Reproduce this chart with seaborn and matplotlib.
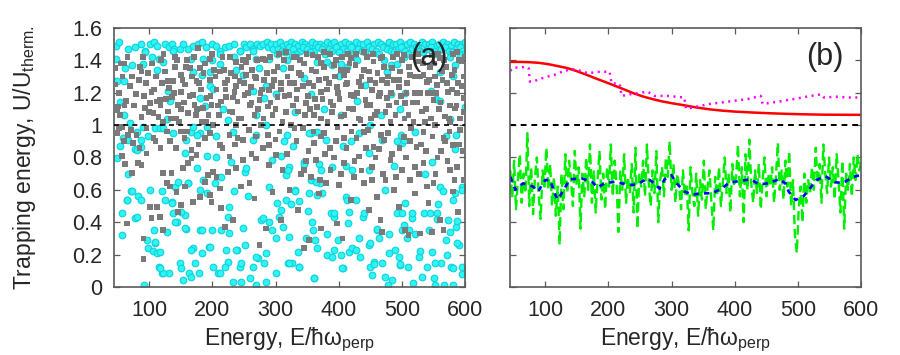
import numpy as np
import pandas as pd
import matplotlib
matplotlib.use('Agg')
import matplotlib.pyplot as plt
from matplotlib.ticker import FuncFormatter
import seaborn as sns

# ---------------- panel (a): trapping energies ----------------
# cyan circles, dense band at the top (U/Uth ~ 1.5)
cyan_band = [(47, 1.49), (52, 1.51), (67, 1.47), (78, 1.48), (88, 1.50), (94, 1.46), (102, 1.50), (108, 1.51),
             (112, 1.49), (125, 1.50), (131, 1.48), (136, 1.50), (140, 1.47), (149, 1.47), (154, 1.50), (162, 1.47),
             (170, 1.49), (178, 1.50), (184, 1.51), (190, 1.48), (200, 1.50), (206, 1.49), (212, 1.46), (220, 1.48),
             (227, 1.49), (235, 1.50), (243, 1.46), (250, 1.50), (254, 1.48), (260, 1.50), (264, 1.47), (270, 1.50),
             (276, 1.49), (280, 1.50), (286, 1.51), (288, 1.48), (293, 1.50), (296, 1.47),
             (301, 1.50), (307, 1.51), (312, 1.49), (318, 1.50), (324, 1.51), (330, 1.50), (335, 1.49), (341, 1.51),
             (347, 1.50), (353, 1.49), (358, 1.51), (364, 1.50), (370, 1.50), (376, 1.49), (381, 1.51), (387, 1.50),
             (393, 1.51), (398, 1.49), (404, 1.50), (410, 1.51), (416, 1.50), (421, 1.49), (427, 1.51), (433, 1.50),
             (439, 1.50), (444, 1.51), (450, 1.49), (456, 1.50), (462, 1.51), (467, 1.50), (473, 1.49), (479, 1.51),
             (485, 1.50), (490, 1.50), (496, 1.51), (502, 1.49), (508, 1.50), (513, 1.51), (519, 1.50), (525, 1.49),
             (531, 1.51), (536, 1.50), (542, 1.50), (548, 1.51), (554, 1.49), (559, 1.50), (565, 1.51), (571, 1.50),
             (577, 1.49), (582, 1.51), (588, 1.50), (594, 1.50), (599, 1.51),
             (304, 1.47), (310, 1.46), (321, 1.48), (327, 1.47), (338, 1.46), (344, 1.48), (350, 1.47), (361, 1.46),
             (367, 1.48), (373, 1.47), (384, 1.47), (390, 1.46), (396, 1.48), (407, 1.47), (413, 1.46), (419, 1.48),
             (430, 1.47), (436, 1.46), (447, 1.48), (453, 1.47), (459, 1.46), (470, 1.48), (476, 1.47), (482, 1.46),
             (493, 1.47), (499, 1.48), (505, 1.46), (516, 1.47), (522, 1.48), (528, 1.46), (539, 1.47), (545, 1.48),
             (551, 1.46), (562, 1.47), (568, 1.48), (574, 1.46), (585, 1.47), (591, 1.48), (597, 1.46),
             (303, 1.44), (315, 1.45), (332, 1.44), (355, 1.45), (378, 1.44), (401, 1.45), (424, 1.44), (442, 1.45),
             (464, 1.44), (487, 1.45), (510, 1.44), (533, 1.45), (556, 1.44), (579, 1.45), (598, 1.44)]

# cyan circles between 1.0 and 1.45
cyan_upper = [(47, 1.41), (45, 1.27), (50, 1.27), (60, 1.27), (62, 1.35), (73, 1.37), (90, 1.38), (94, 1.45),
              (104, 1.42), (112, 1.34), (115, 1.41), (122, 1.39), (130, 1.21), (133, 1.15), (138, 1.46), (167, 1.41),
              (170, 1.33), (183, 1.31), (185, 1.41), (196, 1.33), (199, 1.40), (212, 1.38), (212, 1.44), (196, 1.24),
              (201, 1.22), (217, 1.10), (235, 1.42), (238, 1.34), (243, 1.46), (248, 1.31), (264, 1.46), (269, 1.41),
              (274, 1.35), (290, 1.41), (311, 1.35), (282, 1.17), (285, 1.24), (301, 1.19), (269, 1.06), (264, 1.21),
              (180, 1.17), (188, 1.12), (128, 1.04), (54, 1.14), (60, 1.06), (70, 1.01), (225, 1.03),
              (318, 1.40), (326, 1.43), (366, 1.39), (382, 1.39), (389, 1.37), (403, 1.38), (413, 1.36), (429, 1.40),
              (471, 1.40), (482, 1.37), (492, 1.38), (503, 1.42), (576, 1.42), (584, 1.37), (592, 1.43), (476, 1.33),
              (560, 1.33), (345, 1.29), (400, 1.30), (442, 1.25), (482, 1.19), (505, 1.20), (554, 1.16), (545, 1.21),
              (581, 1.30), (330, 1.08), (377, 1.10), (403, 1.06), (466, 1.06), (497, 1.10), (576, 1.04), (560, 1.15),
              (429, 1.15), (356, 1.19), (600, 1.11), (450, 1.00)]

# cyan circles between 0.7 and 1.0
cyan_mid = [(54, 0.87), (81, 0.96), (99, 0.93), (109, 0.98), (117, 0.98), (138, 0.95), (167, 0.96), (180, 0.95),
            (191, 0.99), (206, 0.93), (233, 0.96), (264, 0.91), (285, 1.00), (309, 0.81), (327, 0.87), (356, 0.95),
            (379, 0.91), (406, 0.87), (432, 0.95), (447, 0.83), (468, 0.91), (500, 0.89), (521, 0.96), (547, 0.77),
            (570, 0.93), (583, 0.85), (369, 0.76), (390, 0.74), (421, 0.72), (321, 0.74), (191, 0.81), (157, 0.83),
            (122, 0.98), (91, 0.99), (78, 0.85), (88, 0.91), (59, 0.92), (67, 0.91), (170, 0.99), (175, 0.94),
            (269, 0.94), (318, 0.94), (353, 0.95), (492, 0.90), (586, 0.94), (419, 0.90), (366, 0.96), (499, 0.94),
            (314, 0.90)]

# cyan circles below 0.85
cyan_low = [(49, 0.795), (57, 0.455), (57, 0.32), (65, 0.54), (67, 0.70), (72, 0.59), (78, 0.424), (81, 0.846),
            (83, 0.56), (88, 0.537), (88, 0.867), (92, 0.012), (96, 0.29), (99, 0.24), (102, 0.60), (106, 0.22),
            (108, 0.35), (109, 0.27), (113, 0.21), (116, 0.125), (120, 0.084), (121, 0.59), (125, 0.537), (128, 0.34),
            (132, 0.084), (136, 0.527), (138, 0.455), (141, 0.62), (144, 0.40), (149, 0.146), (151, 0.115),
            (154, 0.043), (157, 0.445), (158, 0.36), (159, 0.908), (162, 0.64), (163, 0.084), (167, 0.064),
            (170, 0.24), (175, 0.733), (179, 0.084), (180, 0.352), (183, 0.208), (185, 0.66), (192, 0.58),
            (195, 0.25), (199, 0.35), (201, 0.126), (209, 0.084), (213, 0.68), (214, 0.352), (221, 0.229),
            (225, 0.156), (227, 0.496), (233, 0.033), (235, 0.59), (239, 0.229), (243, 0.126), (246, 0.033),
            (251, 0.712), (252, 0.26), (256, 0.56), (264, 0.126), (269, 0.012), (272, 0.177), (277, 0.414),
            (282, 0.146), (285, 0.033), (285, 0.208), (290, 0.62), (294, 0.352), (295, 0.784), (300, 0.084),
            (305, 0.434), (309, 0.475), (316, 0.537), (322, 0.31), (326, 0.146), (330, 0.60), (335, 0.218),
            (337, 0.126), (345, 0.774), (348, 0.30), (356, 0.66), (358, 0.40), (359, 0.352), (361, 0.054),
            (362, 0.29), (366, 0.24), (371, 0.64), (374, 0.58), (382, 0.198), (387, 0.455), (390, 0.187),
            (392, 0.434), (398, 0.29), (403, 0.198), (406, 0.115), (411, 0.558), (414, 0.393), (416, 0.218),
            (421, 0.24), (427, 0.537), (432, 0.30), (434, 0.187), (439, 0.434), (447, 0.26), (450, 0.126),
            (452, 0.074), (455, 0.156), (460, 0.352), (463, 0.30), (468, 0.146), (473, 0.064), (478, 0.012),
            (480, 0.33), (484, 0.043), (489, 0.229), (492, 0.455), (495, 0.187), (497, 0.136), (500, 0.352),
            (503, 0.908), (505, 0.517), (508, 0.30), (510, 0.126), (516, 0.424), (518, 0.023), (521, 0.33),
            (526, 0.187), (531, 0.064), (536, 0.70), (539, 0.126), (542, 0.352), (547, 0.218), (550, 0.054),
            (552, 0.012), (556, 0.455), (560, 0.62), (562, 0.146), (566, 0.012), (570, 0.29), (573, 0.414),
            (578, 0.126), (580, 0.012), (583, 0.58), (585, 0.373), (581, 0.537), (594, 0.62), (594, 0.126),
            (590, 0.26), (587, 0.41), (595, 0.08),
            (65, 0.537), (72.8, 0.59), (80.6, 0.434), (109, 0.28), (117, 0.218), (122, 0.084), (117, 0.115),
            (135.6, 0.517), (141, 0.403), (146, 0.65), (151, 0.465), (157, 0.362), (162, 0.64), (167, 0.228),
            (172, 0.146), (180, 0.599), (183, 0.35), (196, 0.25), (204, 0.64), (206, 0.805), (212, 0.084),
            (219.5, 0.125), (225, 0.434), (227, 0.331), (230, 0.774), (238, 0.228), (246, 0.146), (248, 0.362),
            (253.5, 0.733), (259, 0.053), (269, 0.187), (280, 0.424), (290, 0.403), (301, 0.30), (303, 0.517),
            (311, 0.372), (316, 0.69), (319, 0.146),
            (319, 0.72), (330, 0.59), (337, 0.53), (345, 0.76), (350.6, 0.47), (363.7, 0.65), (366, 0.57),
            (371.5, 0.72), (392.5, 0.455), (410.8, 0.75), (413.5, 0.54), (416, 0.465), (439.7, 0.455),
            (447.5, 0.72), (460.6, 0.36), (473.7, 0.60), (486.8, 0.75), (500, 0.455), (502.6, 0.38), (510.4, 0.35),
            (515.6, 0.455), (534, 0.455), (544.5, 0.455), (555, 0.42), (557.6, 0.51), (565.5, 0.59), (576, 0.34),
            (586.5, 0.27), (594, 0.60), (324.5, 0.51), (353, 0.58), (382, 0.33), (392.5, 0.23), (426.6, 0.23),
            (450, 0.27), (455, 0.14), (479, 0.21), (497, 0.14), (528.7, 0.22), (552, 0.15), (570.6, 0.20),
            (581, 0.115), (322, 0.15), (337.5, 0.125), (361, 0.053), (405.6, 0.115)]

# grey squares between 0.85 and 1.45
grey_upper = [(47, 1.35), (50.5, 1.114), (54, 1.062), (49, 0.95), (57, 0.99), (67, 0.94), (75, 0.888), (80, 0.94),
              (88, 1.05), (88, 1.33), (94, 1.104), (101.6, 1.135), (104, 1.206), (107, 1.073), (112, 1.145),
              (117, 1.155), (120, 1.26), (125, 1.33), (130, 1.083), (135.7, 1.175), (138, 1.27), (143, 1.04),
              (146, 1.124), (151, 1.206), (151, 1.31), (157, 1.25), (162, 1.073), (165, 1.35), (170, 1.186),
              (172, 1.124), (175, 1.27), (180, 1.35), (185, 1.104), (191, 1.165), (196, 1.28), (198.6, 1.124),
              (201, 1.0), (206.5, 1.22), (211.7, 1.33), (214, 1.145), (219.5, 1.26), (222, 1.175), (227, 1.083),
              (230, 1.32), (235, 1.206), (240, 1.145), (243, 1.27), (245.6, 1.04), (251, 1.186), (253.6, 1.31),
              (259, 1.124), (261.5, 1.237), (266.7, 1.062), (269, 1.29), (274.5, 1.155), (277, 1.0), (282, 1.28),
              (287.6, 1.114), (290, 1.216), (295, 1.062), (298, 1.33), (303, 1.175), (308.5, 1.26), (311, 1.02),
              (279.7, 1.41), (253.6, 1.39), (238, 1.39), (196, 1.41), (177.5, 1.474), (140.6, 1.42), (90.6, 1.42),
              (60, 1.38), (107, 0.92), (133, 0.90), (159.6, 0.96), (167, 0.846), (188, 0.92), (211.7, 0.877),
              (227, 0.94), (248, 0.908), (269, 0.93), (290, 0.877), (306, 0.96), (238, 1.0), (183, 1.02),
              (122.5, 1.02), (96, 0.98), (49, 1.11), (49, 1.09),
              (316.5, 1.453), (324, 1.35), (332, 1.42), (340, 1.31), (345, 1.38), (353, 1.258), (358.5, 1.433),
              (364, 1.33), (371.5, 1.206), (376.8, 1.453), (379.4, 1.288), (387, 1.144), (392.5, 1.371),
              (397.7, 1.237), (405.6, 1.422), (408, 1.309), (416, 1.103), (418.7, 1.186), (426.6, 1.371),
              (432, 1.268), (439.7, 1.453), (442, 1.155), (447.5, 1.33), (453, 1.217), (460.6, 1.083), (466, 1.412),
              (468.5, 1.278), (476, 1.165), (484, 1.35), (489.5, 1.062), (494.7, 1.237), (502.5, 1.433),
              (505, 1.134), (513, 1.309), (521, 1.196), (526, 1.392), (531.4, 1.083), (539, 1.268), (544.5, 1.36),
              (549.7, 1.155), (555, 1.247), (563, 1.33), (568, 1.052), (573, 1.206), (578.5, 1.309), (584, 1.103),
              (589, 1.258), (594, 1.392), (597, 1.165), (322, 1.186), (335, 1.083), (348, 1.134), (361, 1.062),
              (382, 1.021), (403, 1.052), (434.5, 1.031), (450, 1.124), (481.6, 1.021), (518, 1.021), (552, 1.0),
              (576, 1.021), (324.5, 1.0), (371.5, 1.381), (413.5, 1.34), (455, 1.392), (497, 1.33), (534, 1.309),
              (560, 1.412), (586.5, 1.453), (366, 1.113), (476, 1.258), (510.4, 1.062), (544.5, 1.196),
              (329.6, 1.258), (418.7, 1.412), (342.8, 0.98), (376.8, 0.949), (408, 0.918), (439.7, 0.959),
              (471, 0.908), (502.5, 0.928), (534, 0.959), (565.5, 0.918), (591.6, 0.97), (361, 0.887),
              (455, 0.866), (523, 0.866), (581, 0.877)]

# more grey squares in the dense 1.0 - 1.45 band
grey_fill = [(52, 1.20), (58, 1.30), (64, 1.15), (70, 1.24), (76, 1.12), (84, 1.28), (92, 1.18), (98, 1.32),
             (108, 1.22), (115, 1.05), (119, 1.40), (127, 1.16), (132, 1.23), (141, 1.36), (147, 1.02),
             (155, 1.14), (160, 1.40), (168, 1.30), (176, 1.10), (182, 1.22), (188, 1.38), (194, 1.06),
             (203, 1.34), (209, 1.12), (216, 1.42), (224, 1.28), (232, 1.08), (238, 1.24), (248, 1.40),
             (256, 1.20), (263, 1.34), (272, 1.10), (279, 1.22), (284, 1.40), (292, 1.14), (297, 1.28),
             (305, 1.44), (314, 1.18), (319, 1.30), (327, 1.12), (334, 1.22), (339, 1.40), (347, 1.06),
             (351, 1.18), (360, 1.24), (367, 1.42), (374, 1.16), (384, 1.26), (389, 1.08), (395, 1.40),
             (401, 1.16), (411, 1.25), (415, 1.44), (422, 1.10), (429, 1.20), (436, 1.30), (444, 1.42),
             (451, 1.04), (458, 1.26), (463, 1.18), (472, 1.36), (479, 1.12), (487, 1.28), (492, 1.44),
             (498, 1.18), (508, 1.26), (515, 1.42), (524, 1.14), (528, 1.30), (536, 1.02), (541, 1.20),
             (547, 1.43), (552, 1.30), (558, 1.10), (566, 1.40), (571, 1.26), (576, 1.12), (581, 1.44),
             (587, 1.20), (592, 1.04), (597, 1.30), (599, 1.42),
             (46, 1.25), (55, 1.38), (61, 1.12), (66, 1.42), (73, 1.30), (79, 1.19), (86, 1.36), (95, 1.26),
             (100, 1.08), (105, 1.38), (111, 1.30), (118, 1.12), (123, 1.44), (129, 1.27), (134, 1.04),
             (139, 1.20), (144, 1.40), (150, 1.10), (153, 1.28), (158, 1.36), (164, 1.18), (171, 1.42),
             (174, 1.06), (179, 1.26), (186, 1.32), (190, 1.02), (197, 1.18), (200, 1.44), (205, 1.30),
             (210, 1.06), (218, 1.34), (221, 1.22), (228, 1.42), (233, 1.17), (236, 1.30), (242, 1.04),
             (246, 1.36), (250, 1.26), (257, 1.42), (262, 1.14), (267, 1.30), (271, 1.40), (276, 1.20),
             (281, 1.04), (286, 1.32), (291, 1.42), (294, 1.24), (300, 1.10), (303, 1.36), (309, 1.22),
             (313, 1.40), (317, 1.08), (323, 1.26), (329, 1.42), (333, 1.16), (337, 1.32), (343, 1.24),
             (349, 1.44), (354, 1.10), (357, 1.34), (362, 1.16), (369, 1.28), (372, 1.04), (377, 1.36),
             (381, 1.22), (386, 1.44), (391, 1.12), (394, 1.30), (399, 1.20), (404, 1.34), (409, 1.06),
             (413, 1.26), (417, 1.38), (424, 1.18), (427, 1.44), (431, 1.04), (435, 1.24), (440, 1.34),
             (445, 1.12), (449, 1.28), (454, 1.44), (457, 1.06), (461, 1.32), (465, 1.20), (469, 1.42),
             (474, 1.08), (478, 1.30), (483, 1.20), (486, 1.42), (491, 1.14), (495, 1.28), (500, 1.40),
             (504, 1.04), (507, 1.20), (511, 1.36), (517, 1.14), (520, 1.30), (525, 1.44), (529, 1.20),
             (533, 1.38), (538, 1.10), (543, 1.28), (546, 1.04), (550, 1.38), (554, 1.20), (557, 1.44),
             (561, 1.14), (564, 1.28), (569, 1.36), (574, 1.04), (579, 1.22), (583, 1.34), (586, 1.12),
             (590, 1.40), (595, 1.24), (598, 1.08)]

# grey squares between 0.6 and 1.0
grey_mid = [(52, 0.98), (60, 0.90), (71, 0.97), (85, 0.86), (110, 0.90), (128, 0.96), (142, 0.86), (156, 0.92),
            (178, 0.88), (196, 0.95), (216, 0.86), (240, 0.92), (258, 0.97), (280, 0.86), (300, 0.91),
            (330, 0.98), (352, 0.84), (372, 0.93), (386, 0.86), (398, 0.99), (412, 0.86), (428, 0.92),
            (446, 0.97), (463, 0.85), (478, 0.95), (496, 0.86), (514, 0.98), (530, 0.88), (548, 0.93),
            (562, 0.84), (575, 0.96), (590, 0.88), (340, 0.70), (392, 0.80), (436, 0.72), (458, 0.80),
            (520, 0.74), (556, 0.80), (587, 0.74), (370, 0.66), (470, 0.70), (540, 0.62),
            (318, 0.82), (333, 0.90), (348, 0.78), (360, 0.96), (378, 0.82), (395, 0.90), (404, 0.70),
            (420, 0.96), (425, 0.78), (443, 0.86), (452, 0.66), (467, 0.94), (484, 0.82), (490, 0.68),
            (506, 0.80), (512, 0.90), (527, 0.70), (538, 0.84), (553, 0.70), (568, 0.90), (572, 0.78),
            (583, 0.66), (596, 0.84), (236, 0.88), (262, 0.82), (288, 0.94), (150, 0.96), (118, 0.86)]

# grey squares below 0.85
grey_low = [(57, 0.81), (62, 0.76), (65, 0.393), (83, 0.764), (88, 0.753), (72.8, 0.702), (96, 0.825),
            (101.6, 0.496), (104, 0.424), (91, 0.30), (91, 0.171), (112, 0.496), (117.3, 0.434), (122.5, 0.352),
            (122.5, 0.702), (128, 0.64), (133, 0.62), (135.6, 0.702), (143.5, 0.588), (146, 0.465), (151, 0.506),
            (154, 0.733), (156.6, 0.62), (161.8, 0.764), (167, 0.794), (169.7, 0.527), (175, 0.815), (180, 0.558),
            (188, 0.65), (196, 0.568), (193, 0.69), (198.5, 0.527), (201, 0.712), (206.4, 0.681), (211.7, 0.609),
            (214, 0.486), (219.5, 0.372), (224.7, 0.712), (227, 0.805), (232.6, 0.414), (237.8, 0.733),
            (245.7, 0.62), (248, 0.784), (258.8, 0.64), (266.6, 0.547), (269, 0.794), (274.5, 0.26), (285, 0.362),
            (290, 0.753), (295, 0.588), (300.7, 0.815), (308.6, 0.414), (311, 0.722),
            (322, 0.599), (335, 0.475), (345, 0.722), (356, 0.681), (363.7, 0.784), (369, 0.578), (371.5, 0.362),
            (379.4, 0.64), (387, 0.722), (397.7, 0.393), (400.4, 0.63), (408, 0.764), (418.7, 0.537), (424, 0.681),
            (432, 0.805), (439.7, 0.64), (447.5, 0.475), (453, 0.743), (460.6, 0.558), (466, 0.414), (473.7, 0.66),
            (481.6, 0.784), (486.8, 0.599), (494.7, 0.496), (500, 0.722), (505, 0.352), (513, 0.66), (521, 0.578),
            (528.7, 0.331), (534, 0.764), (541.8, 0.517), (549.7, 0.64), (560, 0.414), (565.5, 0.352), (576, 0.722),
            (581, 0.589), (589, 0.465), (597, 0.66), (353, 0.29), (345, 0.239), (405.7, 0.30), (547, 0.341),
            (510.4, 0.321), (468.5, 0.341)]

# ---------------- panel (b) ----------------
red_x = [45, 60, 75, 90, 105, 120, 135, 150, 165, 180, 195, 210, 225, 240, 255, 270, 285, 300, 320, 340,
         360, 380, 400, 430, 460, 500, 540, 600]
red_y = [1.390, 1.390, 1.388, 1.384, 1.376, 1.364, 1.352, 1.333, 1.311, 1.288, 1.266, 1.243, 1.220, 1.196,
         1.176, 1.160, 1.146, 1.135, 1.122, 1.108, 1.097, 1.089, 1.083, 1.077, 1.072, 1.067, 1.064, 1.063]

magenta_x = [45, 50, 60, 70, 74, 76, 85, 100, 115, 131, 147, 160, 168, 183, 202, 205, 212, 218, 221, 235,
             246, 262, 273, 293, 320, 323, 330, 345, 360, 380, 400, 420, 441, 444, 470, 500, 520, 537, 541,
             560, 580, 600]
magenta_y = [1.335, 1.355, 1.355, 1.360, 1.350, 1.268, 1.275, 1.295, 1.310, 1.336, 1.345, 1.330, 1.320, 1.328,
             1.330, 1.258, 1.256, 1.254, 1.180, 1.190, 1.196, 1.206, 1.180, 1.180, 1.170, 1.100, 1.105, 1.118,
             1.130, 1.140, 1.150, 1.160, 1.180, 1.130, 1.145, 1.165, 1.180, 1.190, 1.170, 1.175, 1.170, 1.170]

green_y = [0.72, 0.55, 0.78, 0.48, 0.66, 0.82, 0.52, 0.70, 0.58, 0.95,
           0.50, 0.74, 0.45, 0.68, 0.80, 0.56, 0.42, 0.72, 0.62, 0.86,
           0.60, 0.76, 0.50, 0.68, 0.44, 0.62, 0.26, 0.70, 0.48, 0.82,
           0.58, 0.78, 0.66, 0.50, 0.84, 0.62, 0.74, 0.36, 0.70, 0.56,
           0.80, 0.60, 0.88, 0.52, 0.72, 0.46, 0.66, 0.84, 0.54, 0.70,
           0.48, 0.74, 0.62, 0.88, 0.56, 0.78, 0.64, 0.34, 0.72, 0.60,
           0.82, 0.52, 0.68, 0.58, 0.76, 0.46, 0.86, 0.36, 0.70, 0.62,
           0.78, 0.56, 0.88, 0.64, 0.50, 0.72, 0.58, 0.84, 0.40, 0.66,
           0.74, 0.56, 0.80, 0.68, 0.90, 0.60, 0.76, 0.52, 0.70, 0.62,
           0.48, 0.72, 0.56, 0.64, 0.35, 0.74, 0.58, 0.50, 0.70, 0.44,
           0.66, 0.54, 0.78, 0.48, 0.62, 0.72, 0.52, 0.35, 0.68, 0.56,
           0.74, 0.50, 0.64, 0.80, 0.58, 0.70, 0.46, 0.76, 0.62, 0.68,
           0.88, 0.56, 0.74, 0.40, 0.82, 0.60, 0.91, 0.64, 0.52, 0.72,
           0.58, 0.76, 0.48, 0.66, 0.80, 0.56, 0.70, 0.62, 0.74, 0.52,
           0.68, 0.89, 0.60, 0.72, 0.54, 0.78, 0.62, 0.84, 0.50, 0.66,
           0.32, 0.21, 0.48, 0.62, 0.40, 0.70, 0.52, 0.66, 0.58, 0.74,
           0.60, 0.86, 0.64, 0.76, 0.52, 0.88, 0.70, 0.58, 0.80, 0.62,
           0.74, 0.54, 0.82, 0.66, 0.46, 0.78, 0.36, 0.70, 0.60, 0.76,
           0.56, 0.80, 0.66, 0.82, 0.72, 0.78]
green_x = np.arange(45, 601, 3)

blue_x = [45, 53, 65, 73, 81, 89, 100, 108, 116, 120, 128, 139, 158, 174, 183, 194, 210, 221, 237, 246, 262,
          273, 281, 289, 300, 308, 320, 333, 348, 364, 380, 391, 407, 425, 438, 454, 470, 480, 485, 496, 509,
          520, 529, 543, 559, 572, 587, 598]
blue_y = [0.68, 0.60, 0.64, 0.63, 0.62, 0.59, 0.66, 0.66, 0.57, 0.54, 0.59, 0.665, 0.67, 0.65, 0.615, 0.64,
          0.65, 0.64, 0.63, 0.635, 0.67, 0.64, 0.607, 0.665, 0.69, 0.64, 0.59, 0.57, 0.58, 0.578, 0.61, 0.644,
          0.654, 0.665, 0.635, 0.64, 0.667, 0.64, 0.59, 0.537, 0.562, 0.615, 0.66, 0.685, 0.646, 0.644, 0.68, 0.69]

y_ticks = [0, 0.2, 0.4, 0.6, 0.8, 1.0, 1.2, 1.4, 1.6]
x_ticks = [100, 200, 300, 400, 500, 600]

cyan = pd.DataFrame(cyan_band + cyan_upper + cyan_mid + cyan_low, columns=['E', 'U'])
grey = pd.DataFrame(grey_upper + grey_fill + grey_mid + grey_low, columns=['E', 'U'])

sns.set_style('ticks')
plt.rcParams['font.family'] = ['Liberation Sans', 'DejaVu Sans']
plt.rcParams['mathtext.fontset'] = 'custom'
plt.rcParams['mathtext.rm'] = 'Liberation Sans'
plt.rcParams['mathtext.it'] = 'Liberation Sans:italic'

fs_tick = 15.5
fs_lab = 16.5
spine_col = '#5a5a5a'

fig = plt.figure(figsize=(9, 3.55), dpi=100)
ax_a = fig.add_axes([0.127, 0.1915, 0.39, 0.73])
ax_b = fig.add_axes([0.567, 0.1915, 0.39, 0.73])

# (a) scatter
sns.scatterplot(data=cyan, x='E', y='U', ax=ax_a, marker='o', s=23, color='#2ff4f4',
                edgecolor='#10d2da', linewidth=0.8, zorder=2)
sns.scatterplot(data=grey, x='E', y='U', ax=ax_a, marker='s', s=17, color='#7a7a7a',
                edgecolor='none', linewidth=0, zorder=3)
ax_a.axhline(1.0, color='black', linestyle=(0, (3, 2.5)), linewidth=1.2, zorder=4)

# (b) lines
sns.lineplot(x=red_x, y=red_y, ax=ax_b, color='#ff0000', linewidth=1.8, estimator=None, sort=False)
sns.lineplot(x=magenta_x, y=magenta_y, ax=ax_b, color='#ff00ff', linewidth=1.8,
             linestyle=(0, (0.8, 1.8)), estimator=None, sort=False)
ax_b.axhline(1.0, color='black', linestyle=(0, (3, 2.5)), linewidth=1.4)
sns.lineplot(x=green_x, y=green_y, ax=ax_b, color='#00ee00', linewidth=1.7,
             linestyle=(0, (4, 2)), estimator=None, sort=False)
sns.lineplot(x=blue_x, y=blue_y, ax=ax_b, color='#0000ff', linewidth=1.9,
             linestyle=(0, (2, 2)), estimator=None, sort=False)

for ax in (ax_a, ax_b):
    ax.set_xlim(45, 600)
    ax.set_ylim(0, 1.6)
    ax.set_xticks(x_ticks)
    ax.set_yticks(y_ticks)
    ax.xaxis.set_major_formatter(FuncFormatter(lambda v, p: f'{v:g}'))
    ax.yaxis.set_major_formatter(FuncFormatter(lambda v, p: f'{v:g}'))
    ax.tick_params(direction='in', length=4.5, width=0.9, color=spine_col, top=True, right=True,
                   labelsize=fs_tick, pad=9)
    for s in ax.spines.values():
        s.set_color(spine_col)
        s.set_linewidth(1.2)
    ax.set_xlabel('Energy, E/\u0127\u03c9$_{\\mathrm{perp}}$', fontsize=fs_lab, labelpad=4)
    ax.set_ylabel('')

ax_b.tick_params(labelleft=False)
ax_a.set_ylabel('Trapping energy, U/U$_{\\mathrm{therm.}}$', fontsize=fs_lab, labelpad=24)

ax_a.text(0.897, 0.888, '(a)', transform=ax_a.transAxes, fontsize=22, ha='center', va='center', zorder=10)
ax_b.text(0.897, 0.888, '(b)', transform=ax_b.transAxes, fontsize=22, ha='center', va='center', zorder=10)

fig.savefig('out.png', dpi=100)
